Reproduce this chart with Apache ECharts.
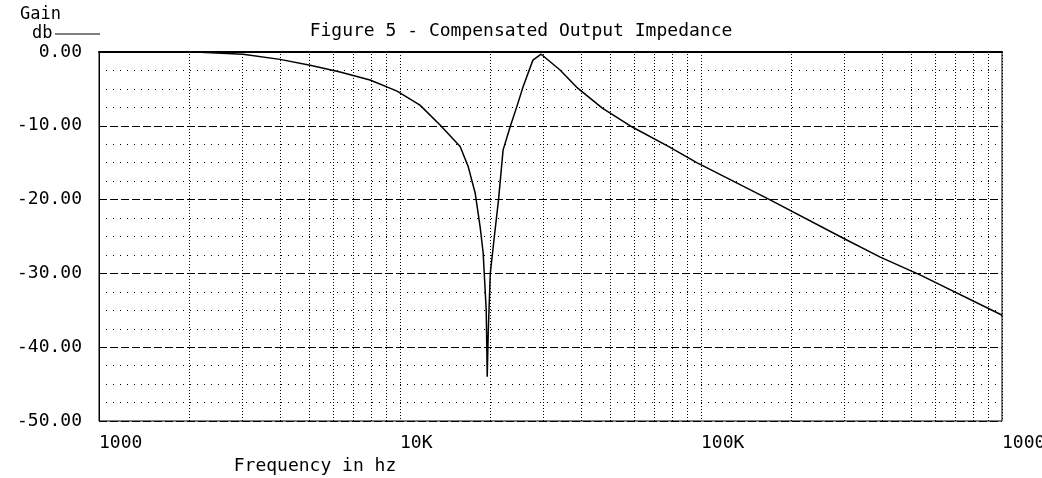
<!DOCTYPE html>
<html>
<head>
<meta charset="utf-8">
<script src="https://cdn.jsdelivr.net/npm/echarts@6/dist/echarts.min.js"></script>
<style>
  html, body { margin: 0; padding: 0; background: #fff; }
  #main { width: 1042px; height: 478px; }
</style>
</head>
<body>
<div id="main"></div>
<script>
// frequency (hz) and gain (db)
const freqs = [1000, 1480, 2170, 3010, 3990, 5030, 6320, 7950, 9780, 11650, 13590, 15840, 16840, 17770, 18460, 18890, 19340, 19490, 19640, 19950, 20580, 21250, 22000, 23200, 24440, 25640, 27640, 29440, 33950, 38940, 47000, 59300, 78700, 96800, 169000, 296000, 394000, 534000, 994000, 1000000];
const gains = [0, 0, -0.05, -0.3, -1.0, -1.8, -2.7, -3.8, -5.3, -7.2, -9.9, -12.8, -15.5, -19.1, -23.7, -27.2, -35, -44, -38, -30, -25, -20, -13.3, -10.2, -7.4, -4.7, -1.1, -0.3, -2.4, -4.9, -7.6, -10.2, -12.9, -15.0, -20, -25.2, -27.8, -30.2, -35.6, -35.8];

const xTickValues = [1000, 10000, 100000, 1000000];
const xTickLabels = ['1000', '10K', '100K', '1000K'];
const yTickValues = [0, -10, -20, -30, -40, -50];

// vertical grid lines at 2..9 of every decade
const minorFreqs = [];
[1000, 10000, 100000].forEach(d => {
  for (let k = 2; k <= 9; k++) minorFreqs.push(d * k);
});

const font = 'DejaVu Sans Mono';
const chart = echarts.init(document.getElementById('main'));

const option = {
  animation: false,
  backgroundColor: '#fff',
  title: {
    text: 'Figure 5 - Compensated Output Impedance',
    left: 'center',
    top: 17,
    textStyle: { fontFamily: font, fontSize: 18, fontWeight: 'normal', color: '#000' }
  },
  grid: {
    left: 99, right: 40, top: 52, bottom: 57,
    outerBoundsMode: 'none',
    containLabel: false,
    show: true, borderColor: '#000', borderWidth: 1
  },
  xAxis: {
    type: 'log',
    logBase: 10,
    min: 1000,
    max: 1000000,
    axisLine: { lineStyle: { color: '#000', width: 2 } },
    axisTick: { show: false },
    axisLabel: {
      margin: 13,
      align: 'left',
      hideOverlap: false,
      fontFamily: font, fontSize: 18, color: '#000',
      formatter: v => {
        const i = xTickValues.indexOf(Math.round(v));
        return i >= 0 ? xTickLabels[i] : '';
      }
    },
    splitLine: { show: true, lineStyle: { color: '#000', type: [1, 2], width: 1 } }
  },
  yAxis: {
    type: 'value',
    min: -50,
    max: 0,
    interval: 10,
    axisLine: { show: true, lineStyle: { color: '#000', width: 1 } },
    axisTick: { show: false },
    axisLabel: {
      margin: 17,
      fontFamily: font, fontSize: 18, color: '#000',
      formatter: v => yTickValues.indexOf(v) >= 0 ? v.toFixed(2) : ''
    },
    splitLine: { show: true, lineStyle: { color: '#000', type: [8, 3], width: 1 } },
    minorTick: { show: false, splitNumber: 4 },
    minorSplitLine: { show: true, lineStyle: { color: '#000', type: [1, 6], width: 1 } }
  },
  graphic: [
    { type: 'text', left: 20, top: 6, style: { text: 'Gain', font: '17px "DejaVu Sans Mono"', fill: '#000' } },
    { type: 'text', left: 32, top: 25, style: { text: 'db', font: '17px "DejaVu Sans Mono"', fill: '#000' } },
    { type: 'line', shape: { x1: 55, y1: 34, x2: 100, y2: 34 }, style: { stroke: '#000', lineWidth: 1 } },
    { type: 'text', x: 315, y: 466, style: { text: 'Frequency in hz', font: '18px "DejaVu Sans Mono"', fill: '#000', textAlign: 'center', textVerticalAlign: 'middle' } }
  ],
  series: [
    {
      type: 'line',
      data: freqs.map((f, i) => [f, gains[i]]),
      showSymbol: false,
      lineStyle: { color: '#000', width: 1.5 },
      z: 3,
      markLine: {
        silent: true,
        symbol: 'none',
        label: { show: false },
        lineStyle: { color: '#000', type: [1, 2], width: 1 },
        data: minorFreqs.map(f => ({ xAxis: f }))
      }
    }
  ]
};

chart.setOption(option);
</script>
</body>
</html>
